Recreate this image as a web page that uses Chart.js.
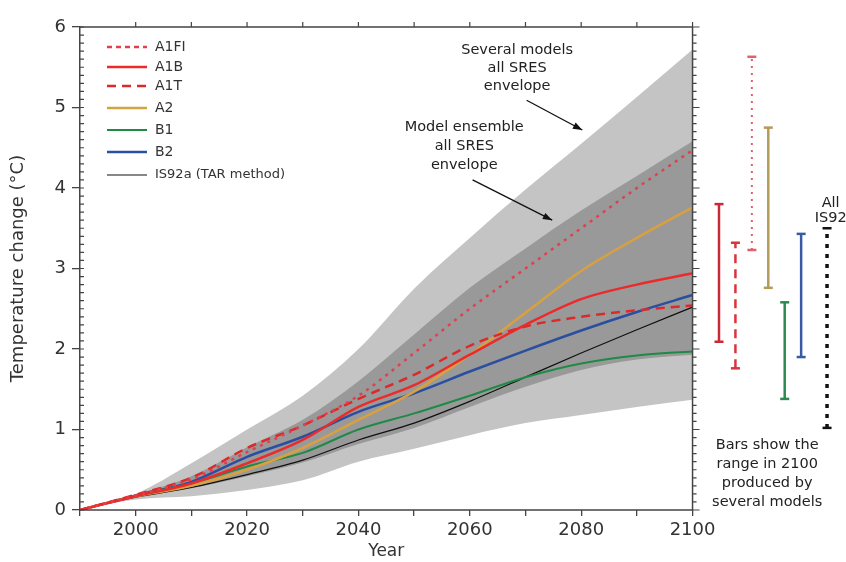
<!DOCTYPE html>
<html>
<head>
<meta charset="utf-8">
<script src="https://cdn.jsdelivr.net/npm/chart.js@4/dist/chart.umd.min.js"></script>
<style>
  html, body { margin: 0; padding: 0; background: #fff; }
  #wrap { width: 846px; height: 562px; }
</style>
</head>
<body>
<div id="wrap"><canvas id="chart" width="846" height="562"></canvas></div>
<script>
// projected warming, SRES scenarios, relative to 1990
const years = [1990, 2000, 2010, 2020, 2030, 2040, 2050, 2060, 2070, 2080, 2090, 2100];

const a1fi  = [0, 0.18, 0.38, 0.72, 1.05, 1.42, 1.95, 2.50, 3.00, 3.50, 4.00, 4.47];
const a1b   = [0, 0.17, 0.33, 0.58, 0.87, 1.28, 1.55, 1.93, 2.30, 2.62, 2.80, 2.94];
const a1t   = [0, 0.19, 0.40, 0.77, 1.05, 1.38, 1.68, 2.04, 2.28, 2.40, 2.48, 2.54];
const a2    = [0, 0.17, 0.30, 0.50, 0.77, 1.12, 1.47, 1.93, 2.45, 2.97, 3.38, 3.76];
const b1    = [0, 0.18, 0.33, 0.54, 0.71, 1.00, 1.20, 1.42, 1.65, 1.82, 1.92, 1.97];
const b2    = [0, 0.18, 0.35, 0.66, 0.91, 1.22, 1.45, 1.72, 1.98, 2.23, 2.46, 2.67];
const is92a = [0, 0.16, 0.28, 0.44, 0.62, 0.87, 1.08, 1.35, 1.65, 1.95, 2.24, 2.52];

// envelopes
const severalHi = [0, 0.20, 0.58, 1.00, 1.42, 2.00, 2.75, 3.38, 3.98, 4.55, 5.13, 5.72];
const severalLo = [0, 0.13, 0.17, 0.25, 0.37, 0.60, 0.76, 0.93, 1.08, 1.18, 1.28, 1.37];
const ensembleHi = [0, 0.19, 0.42, 0.78, 1.12, 1.60, 2.18, 2.76, 3.25, 3.72, 4.15, 4.58];
const ensembleLo = [0, 0.16, 0.27, 0.42, 0.59, 0.82, 1.02, 1.28, 1.53, 1.74, 1.87, 1.93];

// ranges in 2100 from several models
const rangeNames = ["A1B", "A1T", "A1FI", "A2", "B1", "B2", "All IS92"];
const rangeLow  = [2.09, 1.76, 3.23, 2.76, 1.38, 1.90, 1.02];
const rangeHigh = [3.80, 3.32, 5.63, 4.75, 2.58, 3.43, 3.50];

const yTicks = [0, 1, 2, 3, 4, 5, 6];

const FONT = "'DejaVu Sans', sans-serif";
const pts = arr => years.map((yr, i) => ({ x: yr, y: arr[i] }));

function lineSet(label, arr, color, width, dash) {
  return {
    label, data: pts(arr), borderColor: color, borderWidth: width,
    borderDash: dash || [], pointRadius: 0, fill: false,
    cubicInterpolationMode: "monotone", order: 2, legend: true
  };
}
function band(arr, color, fill, order) {
  return {
    data: pts(arr), borderWidth: 0, pointRadius: 0, backgroundColor: color,
    fill: fill, cubicInterpolationMode: "monotone", order
  };
}

const rangeStyle = {
  "A1B":  { color: "#c92a36", dash: [], w: 2.5 },
  "A1T":  { color: "#d8343e", dash: [9, 6], w: 2.5 },
  "A1FI": { color: "#e0606c", dash: [2, 5], w: 2 },
  "A2":   { color: "#b39c58", dash: [], w: 2.5 },
  "B1":   { color: "#2a8a50", dash: [], w: 2.5 },
  "B2":   { color: "#3a5aa5", dash: [], w: 2.5 },
  "All IS92": { color: "#111", dash: [4, 6], w: 3.5 }
};
const rangeSets = rangeNames.map((name, i) => {
  const s = rangeStyle[name];
  const xPos = 2104.75 + i * 2.95 + (i === 6 ? 1.7 : 0);
  return {
    label: name, data: [{ x: xPos, y: rangeLow[i] }, { x: xPos, y: rangeHigh[i] }],
    borderColor: s.color, borderWidth: s.w, borderDash: s.dash,
    pointStyle: "line", pointRadius: 4.5, pointBorderWidth: 2.5,
    pointBorderColor: s.color, fill: false, order: 1
  };
});

const datasets = [
  lineSet("A1FI", a1fi, "#e0404e", 2.5, [3, 5]),
  lineSet("A1B", a1b, "#ec2a2a", 2.5),
  lineSet("A1T", a1t, "#dc2a2a", 2.5, [9, 6]),
  lineSet("A2", a2, "#d9a040", 2.5),
  lineSet("B1", b1, "#1f8a45", 2),
  lineSet("B2", b2, "#2a4fa0", 2.5),
  lineSet("IS92a (TAR method)", is92a, "#111", 1.2),
  band(ensembleHi, "#999999", "+1", 8),
  band(ensembleLo, "#999999", false, 8),
  band(severalHi, "#c4c4c4", "+1", 9),
  band(severalLo, "#c4c4c4", false, 9),
  ...rangeSets
];

// frame, minor ticks, legend and notes
const decor = {
  id: "decor",
  afterDraw(chart) {
    const { ctx, chartArea: a, scales: { x, y } } = chart;
    const x0 = x.getPixelForValue(1990), x1 = x.getPixelForValue(2100);
    ctx.save();
    ctx.strokeStyle = "#444";
    ctx.lineWidth = 1.5;
    ctx.beginPath();
    ctx.moveTo(x0, a.top); ctx.lineTo(x1, a.top);
    ctx.moveTo(x0, a.bottom); ctx.lineTo(x1, a.bottom);
    ctx.moveTo(x1, a.top); ctx.lineTo(x1, a.bottom);
    ctx.stroke();
    ctx.lineWidth = 1.2;
    ctx.beginPath();
    for (let v = 0; v <= 60; v++) {
      const py = y.getPixelForValue(v / 10);
      const len = v % 10 === 0 ? 7 : 4;
      ctx.moveTo(x0, py); ctx.lineTo(x0 + 4, py);
      ctx.moveTo(x1, py); ctx.lineTo(x1 + len, py);
    }
    for (let yr = 2000; yr <= 2100; yr += 10) {
      const px = x.getPixelForValue(yr);
      ctx.moveTo(px, a.top); ctx.lineTo(px, a.top - 5);
    }
    ctx.stroke();

    // x title centred on the year axis
    ctx.fillStyle = "#333";
    ctx.font = "17px " + FONT;
    ctx.textAlign = "center";
    ctx.textBaseline = "middle";
    ctx.fillText("Year", (x0 + x1) / 2, 552);

    // legend
    let ly = 47;
    const rowGap = [20, 19, 22, 22, 22, 23];
    chart.data.datasets.forEach(ds => {
      if (!ds.legend) return;
      ctx.strokeStyle = ds.borderColor;
      ctx.lineWidth = ds.borderWidth;
      ctx.setLineDash(ds.borderDash.length ? (ds.label === "A1FI" ? [5, 4] : ds.borderDash) : []);
      ctx.beginPath();
      ctx.moveTo(107, ly); ctx.lineTo(147, ly);
      ctx.stroke();
      ctx.setLineDash([]);
      ctx.fillStyle = "#333";
      ctx.textAlign = "left";
      ctx.font = (ds.label.length > 5 ? "13px " : "14px ") + FONT;
      ctx.fillText(ds.label, 155, ly);
      ly += rowGap.shift() || 22;
    });

    // notes
    ctx.fillStyle = "#222";
    ctx.font = "14.5px " + FONT;
    ctx.textAlign = "center";
    const note = (lines, yr, t, gap) => {
      const px = x.getPixelForValue(yr);
      let py = y.getPixelForValue(t);
      lines.forEach(s => { ctx.fillText(s, px, py); py += gap; });
    };
    note(["Several models", "all SRES", "envelope"], 2068.5, 5.71, 18);
    note(["Model ensemble", "all SRES", "envelope"], 2059, 4.75, 19);
    note(["All", "IS92"], 2124.8, 3.81, 15);
    note(["Bars show the", "range in 2100", "produced by", "several models"], 2113.4, 0.81, 19);

    const arrow = (ya, ta, yb, tb) => {
      const ax = x.getPixelForValue(ya), ay = y.getPixelForValue(ta);
      const bx = x.getPixelForValue(yb), by = y.getPixelForValue(tb);
      const ang = Math.atan2(by - ay, bx - ax);
      ctx.strokeStyle = "#111";
      ctx.lineWidth = 1.3;
      ctx.beginPath(); ctx.moveTo(ax, ay); ctx.lineTo(bx, by); ctx.stroke();
      ctx.fillStyle = "#111";
      ctx.beginPath();
      ctx.moveTo(bx, by);
      ctx.lineTo(bx - 10 * Math.cos(ang - 0.35), by - 10 * Math.sin(ang - 0.35));
      ctx.lineTo(bx - 10 * Math.cos(ang + 0.35), by - 10 * Math.sin(ang + 0.35));
      ctx.closePath(); ctx.fill();
    };
    arrow(2070.2, 5.09, 2080.2, 4.72);
    arrow(2060.5, 4.10, 2074.8, 3.60);
    ctx.restore();
  }
};

new Chart(document.getElementById("chart"), {
  type: "line",
  data: { datasets },
  plugins: [decor],
  options: {
    responsive: false,
    animation: false,
    events: [],
    layout: { padding: { top: 27, right: 2, left: 0, bottom: 0 } },
    plugins: { legend: { display: false }, tooltip: { enabled: false } },
    scales: {
      x: {
        type: "linear", min: 1990, max: 2126.3,
        afterBuildTicks: s => { s.ticks = s.ticks.filter(t => t.value <= 2100 && t.value % 10 === 0); },
        afterFit: s => { s.height = 52; },
        ticks: {
          stepSize: 10, autoSkip: false, maxRotation: 0, padding: 4,
          color: "#333", font: { family: FONT, size: 18 },
          callback: v => (v % 20 === 0 && v > 1990 ? String(v) : "")
        },
        grid: { drawOnChartArea: false, drawTicks: true, tickLength: 6, color: "#444", lineWidth: 1.3 },
        border: { display: false }
      },
      y: {
        min: 0, max: 6,
        afterBuildTicks: s => { s.ticks = yTicks.map(v => ({ value: v })); },
        afterFit: s => { s.width = 80; },
        ticks: { color: "#333", padding: 6, font: { family: FONT, size: 18 } },
        grid: { drawOnChartArea: false, drawTicks: true, tickLength: 8, color: "#444", lineWidth: 1.3 },
        border: { display: true, color: "#444", width: 1.5 },
        title: {
          display: true, text: "Temperature change (°C)", color: "#333",
          font: { family: FONT, size: 18 }, padding: { top: 8, bottom: 0 }
        }
      }
    }
  }
});
</script>
</body>
</html>
